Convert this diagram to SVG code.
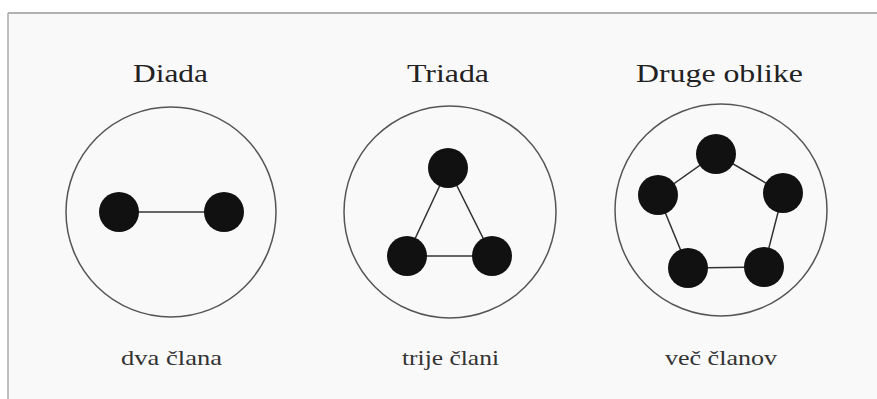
<svg xmlns="http://www.w3.org/2000/svg" width="877" height="399" viewBox="0 0 877 399">
<style>
.ring{fill:none;stroke:#555;stroke-width:1.5}
.node{fill:#111}
.edge{stroke:#333;stroke-width:1.5;fill:none}
.title{font-family:"Liberation Serif",serif;font-size:25px;fill:#222;text-anchor:start}
.label{font-family:"Liberation Serif",serif;font-size:21px;fill:#333;text-anchor:start}
</style>
<rect x="0" y="0" width="877" height="399" fill="#ffffff"/>
<rect x="8" y="13" width="869" height="386" fill="#f9f9f9"/>
<line x1="8" y1="13" x2="877" y2="13" stroke="#999" stroke-width="1.5"/>
<line x1="8" y1="13" x2="8" y2="399" stroke="#aaa" stroke-width="1.5"/>
<g id="connectors">
<line class="edge" x1="119" y1="212" x2="224" y2="212"/>
<polygon class="edge" points="448,168 407,256 492,256"/>
<polygon class="edge" points="716,154 783,193 764,267 688,268 658,195"/>
</g>
<g id="diada">
<text class="title" x="133" y="82" textLength="75" lengthAdjust="spacingAndGlyphs">Diada</text>
<circle class="ring" cx="171" cy="212" r="105"/>
<circle class="node" cx="119" cy="212" r="20"/>
<circle class="node" cx="224" cy="212" r="20"/>
<text class="label" x="121" y="365" textLength="101" lengthAdjust="spacingAndGlyphs">dva člana</text>
</g>
<g id="triada">
<text class="title" x="407" y="82" textLength="82" lengthAdjust="spacingAndGlyphs">Triada</text>
<circle class="ring" cx="450" cy="212" r="106"/>
<circle class="node" cx="448" cy="168" r="20"/>
<circle class="node" cx="407" cy="256" r="20"/>
<circle class="node" cx="492" cy="256" r="20"/>
<text class="label" x="402" y="365" textLength="97" lengthAdjust="spacingAndGlyphs">trije člani</text>
</g>
<g id="druge">
<text class="title" x="636" y="82" textLength="167" lengthAdjust="spacingAndGlyphs">Druge oblike</text>
<circle class="ring" cx="721" cy="210" r="106"/>
<circle class="node" cx="716" cy="154" r="20"/>
<circle class="node" cx="658" cy="195" r="20"/>
<circle class="node" cx="783" cy="193" r="20"/>
<circle class="node" cx="688" cy="268" r="20"/>
<circle class="node" cx="764" cy="267" r="20"/>
<text class="label" x="665" y="365" textLength="112" lengthAdjust="spacingAndGlyphs">več članov</text>
</g>
</svg>
